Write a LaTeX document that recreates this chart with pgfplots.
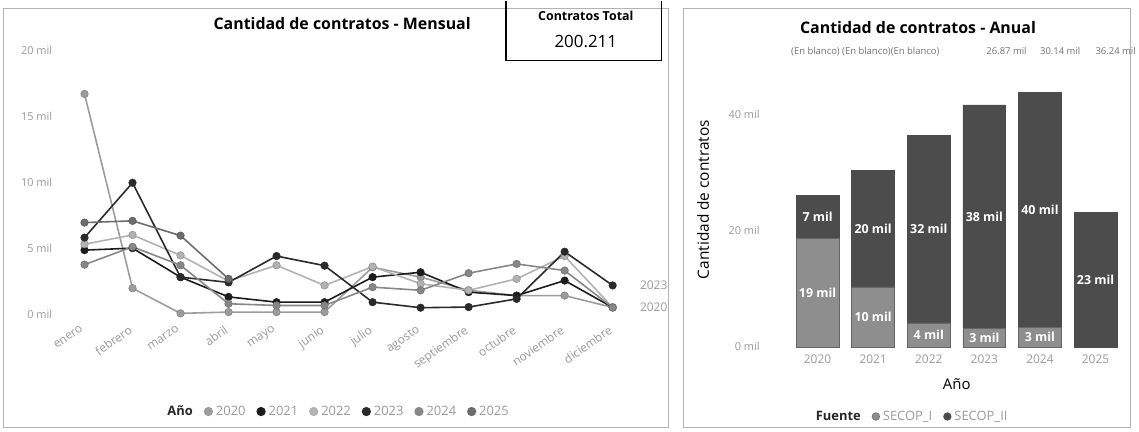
\documentclass[border=0pt]{standalone}
\usepackage{fontspec}
\setmainfont{Open Sans}
\usepackage{pgfplots}
\pgfplotsset{compat=1.18}
\definecolor{cA}{HTML}{9C9C9C}
\definecolor{cB}{HTML}{1C1C1C}
\definecolor{cC}{HTML}{B2B2B2}
\definecolor{cD}{HTML}{2A2A2A}
\definecolor{cE}{HTML}{878787}
\definecolor{cF}{HTML}{6C6C6C}
\definecolor{tick}{HTML}{9A9A9A}
\definecolor{sI}{HTML}{8E8E8E}
\definecolor{sII}{HTML}{4C4C4C}
\newcommand\fs[1]{\fontsize{#1}{#1}\selectfont}
\tikzset{blab/.style={text=white, font=\fs{12.5}\bfseries}}
\begin{document}
\begin{tikzpicture}
\begin{scope}[x=1pt,y=1pt]
\path[use as bounding box] (0,0) rectangle (1139,430);
\fill[white] (0,0) rectangle (1139,430);
\draw[black!30] (3,4) rectangle (672,426);
\draw[black!30] (687,4) rectangle (1136,426);
\end{scope}
% ---------------- left: monthly lines
\begin{axis}[
  at={(56pt,118pt)}, anchor=south west, scale only axis,
  width=560pt, height=265pt,
  xmin=-0.6, xmax=11, ymin=0, ymax=20, clip=false,
  axis line style={draw=none}, tick style={draw=none},
  xtick={0,...,11},
  xticklabels={enero,febrero,marzo,abril,mayo,junio,julio,agosto,septiembre,octubre,noviembre,diciembre},
  xticklabel style={xshift=-4pt, yshift=-6pt, rotate=35, anchor=north east, font=\fs{12}, text=tick},
  ytick={0,5,10,15,20},
  yticklabels={0 mil,5 mil,10 mil,15 mil,20 mil},
  yticklabel style={font=\fs{11}, text=tick},
  every axis plot/.append style={line width=1.6pt, mark=*, mark size=3.8pt},
  legend style={draw=none, fill=none, at={(0.195,-0.37)}, anchor=west,
    font=\fs{13}, text=tick, inner sep=0pt,
    /tikz/every even column/.append style={column sep=9pt},
    /tikz/every odd column/.append style={column sep=1pt}},
  legend columns=7,
  legend image code/.code={\fill[#1] (3pt,0pt) circle (3.8pt);},
]
\addlegendimage{empty legend}
\addlegendentry{\textcolor{black!85}{\bfseries Año}}
\addplot[color=cA, mark options={fill=cA, draw=cA!80!black, line width=0.5pt}] coordinates {
(0,16.7) (1,1.96) (2,0.05) (3,0.15) (4,0.15) (5,0.15) (6,3.55) (7,2.8) (8,1.8) (9,1.4) (10,1.4) (11,0.5)};
\addlegendentry{2020}
\addplot[color=cB, mark options={fill=cB, draw=cB, line width=0.5pt}] coordinates {
(0,4.85) (1,5.0) (2,2.8) (3,1.3) (4,0.9) (5,0.9) (6,2.8) (7,3.17) (8,1.66) (9,1.4) (10,2.54) (11,0.5)};
\addlegendentry{2021}
\addplot[color=cC, mark options={fill=cC, draw=cC!80!black, line width=0.5pt}] coordinates {
(0,5.3) (1,6.0) (2,4.45) (3,2.5) (4,3.7) (5,2.17) (6,3.6) (7,2.3) (8,1.8) (9,2.67) (10,4.4) (11,0.5)};
\addlegendentry{2022}
\addplot[color=cD, mark options={fill=cD, draw=cD, line width=0.5pt}] coordinates {
(0,5.8) (1,9.96) (2,2.8) (3,2.4) (4,4.4) (5,3.67) (6,0.9) (7,0.48) (8,0.53) (9,1.15) (10,4.73) (11,2.17)};
\addlegendentry{2023}
\addplot[color=cE, mark options={fill=cE, draw=cE!80!black, line width=0.5pt}] coordinates {
(0,3.75) (1,5.1) (2,3.7) (3,0.78) (4,0.65) (5,0.65) (6,2.04) (7,1.8) (8,3.1) (9,3.8) (10,3.3) (11,0.5)};
\addlegendentry{2024}
\addplot[color=cF, mark options={fill=cF, draw=cF!80!black, line width=0.5pt}] coordinates {
(0,6.94) (1,7.07) (2,5.95) (3,2.67)};
\addlegendentry{2025}
\node[anchor=west, text=tick, font=\fs{12}] at (axis cs:11,2.17) [xshift=24pt] {2023};
\node[anchor=west, text=tick, font=\fs{12}] at (axis cs:11,0.5) [xshift=24pt] {2020};
\end{axis}
% ---------------- right: annual stacked bars
\begin{axis}[
  at={(777.3pt,85pt)}, anchor=south west, scale only axis,
  width=352.2pt, height=263.25pt,
  xmin=-0.8, xmax=5.5, ymin=0, ymax=45, clip=false,
  ybar stacked, bar width=43pt,
  axis line style={draw=none}, tick style={draw=none},
  xtick={0,...,5}, xticklabels={2020,2021,2022,2023,2024,2025},
  xticklabel style={font=\fs{12}, text=tick, yshift=-5pt},
  ytick={0,20,40}, yticklabels={0 mil,20 mil,40 mil},
  yticklabel style={font=\fs{11}, text=tick, xshift=-10pt},
  legend style={draw=none, fill=none, at={(0.113,-0.266)}, anchor=west,
    font=\fs{13}, text=tick, inner sep=0pt,
    /tikz/every even column/.append style={column sep=9pt},
    /tikz/every odd column/.append style={column sep=1pt}},
  legend columns=3,
  legend image code/.code={\fill[#1] (3pt,0pt) circle (3.8pt);},
]
\addlegendimage{empty legend}
\addlegendentry{\textcolor{black!85}{\bfseries Fuente}}
\addplot[fill=sI, draw=black!60, line width=0.6pt] coordinates {(0,18.6) (1,10.3) (2,4.1) (3,3.2) (4,3.3) (5,0)};
\addlegendentry{SECOP\_I}
\addplot[fill=sII, draw=black!70, line width=0.6pt] coordinates {(0,7.4) (1,20.0) (2,32.3) (3,38.4) (4,40.45) (5,23.1)};
\addlegendentry{SECOP\_II}
\coordinate (a1) at (axis cs:0,9.3);
\coordinate (a2) at (axis cs:0,22.3);
\coordinate (b1) at (axis cs:1,5.15);
\coordinate (b2) at (axis cs:1,20.3);
\coordinate (c1) at (axis cs:2,2.05);
\coordinate (c2) at (axis cs:2,20.25);
\coordinate (d1) at (axis cs:3,1.6);
\coordinate (d2) at (axis cs:3,22.4);
\coordinate (e1) at (axis cs:4,1.65);
\coordinate (e2) at (axis cs:4,23.5);
\coordinate (f2) at (axis cs:5,11.55);
\end{axis}
\node[blab] at (a1) {19 mil};
\node[blab] at (a2) {7 mil};
\node[blab] at (b1) {10 mil};
\node[blab] at (b2) {20 mil};
\node[blab] at (c1) {4 mil};
\node[blab] at (c2) {32 mil};
\node[blab] at (d1) {3 mil};
\node[blab] at (d2) {38 mil};
\node[blab] at (e1) {3 mil};
\node[blab] at (e2) {40 mil};
\node[blab] at (f2) {23 mil};
\begin{scope}[x=1pt,y=1pt]
\node[font=\fs{16}\bfseries] at (344,410) {Cantidad de contratos - Mensual};
\draw[line width=1.5pt] (509,433) -- (509,373) -- (665,373) -- (665,433);
\node[font=\fs{12.5}\bfseries] at (589,418) {Contratos Total};
\node[font=\fs{17}] at (589,392) {200.211};
\node[font=\fs{16}\bfseries] at (923,406) {Cantidad de contratos - Anual};
\node[font=\fs{9.5}, text=black!55] at (870,382) {(En blanco) (En blanco)(En blanco)};
\node[font=\fs{9.5}, text=black!55] at (1012,382) {26.87 mil};
\node[font=\fs{9.5}, text=black!55] at (1066,382) {30.14 mil};
\node[font=\fs{9.5}, text=black!55, anchor=west] at (1098,382) {36.24 mil};
\node[font=\fs{15.5}, rotate=90] at (707,233) {Cantidad de contratos};
\node[font=\fs{15}] at (962,48) {Año};
\end{scope}
\end{tikzpicture}
\end{document}
